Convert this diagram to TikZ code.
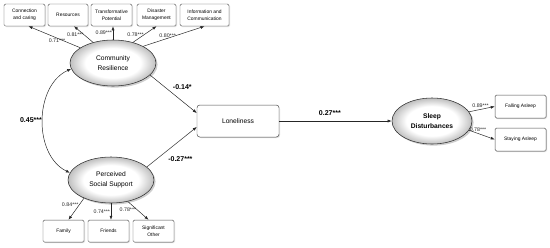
\documentclass[tikz,border=0pt]{standalone}
\usepackage{fontspec}
\setmainfont{Liberation Sans}
\usetikzlibrary{positioning,arrows.meta,calc,shapes.geometric,shadows}
\pgfdeclareradialshading{rim}{\pgfpoint{0bp}{0bp}}{color(0bp)=(white); color(16bp)=(white); color(25bp)=(gray!50); color(50bp)=(gray!50)}

\begin{document}
\begin{tikzpicture}[
  x=0.5mm, y=-0.5mm,
  lat/.style={ellipse,draw=black!80,line width=0.8pt,inner sep=0pt,minimum width=43mm,minimum height=23mm,align=center,
    shade,shading=rim,
    drop shadow={shadow xshift=0.8mm,shadow yshift=-0.8mm,fill=gray!55,opacity=0.7},
    font=\fontsize{9.5}{14}\selectfont},
  obs/.style={draw=black!70,line width=0.7pt,rounded corners=2pt,fill=white,minimum width=20.5mm,minimum height=11mm,align=center,inner sep=1pt,
    drop shadow={shadow xshift=0.5mm,shadow yshift=-0.5mm,fill=gray!45,opacity=0.6},
    font=\fontsize{7}{10}\selectfont},
  ar/.style={-{Latex[length=2mm,width=1.5mm]},draw=black!85,line width=0.7pt},
  cov/.style={{Latex[length=2mm,width=1.5mm]}-{Latex[length=2mm,width=1.5mm]},draw=black!85,line width=0.7pt},
  ld/.style={font=\fontsize{7.5}{8}\selectfont,inner sep=1pt,text=black!85},
  coef/.style={font=\bfseries\fontsize{10}{12}\selectfont,inner sep=1pt}
]
\useasboundingbox (0,0) rectangle (550,247);
\node[obs] (conn) at (24.5,15) {Connection\\and caring};
\node[obs,minimum width=20mm] (res) at (68,15) {Resources};
\node[obs] (trans) at (111.5,15) {Transformative\\Potential};
\node[obs,minimum width=19.5mm] (dis) at (156.5,15) {Disaster\\Management};
\node[obs,minimum width=24.5mm] (info) at (204.5,15) {Information and\\Communication};
\node[lat] (cr) at (113,63) {Community\\Resilience};
\node[lat] (pss) at (111,180) {Perceived\\Social Support};
\node[obs] (fam) at (63.5,231) {Family};
\node[obs] (fri) at (108.5,231) {Friends};
\node[obs] (sig) at (153.5,231) {Significant\\Other};
\node[obs,minimum width=41mm,minimum height=16mm,rounded corners=4pt,font=\fontsize{9.5}{12}\selectfont] (lon) at (238,121) {Loneliness};
\node[lat,minimum width=40mm,font=\bfseries\fontsize{9.5}{14}\selectfont] (sd) at (432,121) {Sleep\\Disturbances};
\node[obs,minimum width=25.5mm,minimum height=11.5mm] (fall) at (520.5,106.5) {Falling Asleep};
\node[obs,minimum width=25.5mm,minimum height=11.5mm] (stay) at (520.5,139.5) {Staying Asleep};
\draw[ar] (cr.155) -- node[ld,below,pos=0.45]{0.71***} ($(conn.south)+(4,0)$);
\draw[ar] (cr.134) -- node[ld,left,pos=0.45]{0.81***} ($(res.south)+(6,0)$);
\draw[ar] (cr.north) -- node[ld,left]{0.89***} (cr.north |- trans.south);
\draw[ar] (cr.46) -- node[ld,left]{0.78***} (dis.south);
\draw[ar] (cr.29) -- node[ld,above,pos=0.4]{0.80***} (info.south);
\draw[ar] (pss.214) -- node[ld,left,pos=0.3]{0.84***} ($(fam.north)+(5,0)$);
\draw[ar] (pss.south) -- node[ld,left]{0.74***} (pss.south |- fri.north);
\draw[ar] (pss.-52) -- node[ld,left,pos=0.45]{0.78***} ($(sig.north)+(-5,0)$);
\draw[cov] (cr.188) to[bend right=65] node[coef,left]{0.45***} (pss.170);
\draw[ar] (cr.-18) -- node[coef,above right,pos=0.47,yshift=3pt]{-0.14*} ($(lon.west)+(0,-8)$);
\draw[ar] (pss.20) -- node[coef,anchor=north west,pos=0.41,yshift=-7pt]{-0.27***} ($(lon.west)+(0,6)$);
\draw[ar] (lon) -- node[coef,above=6pt,pos=0.45]{0.27***} (sd);
\draw[ar] (sd.14) -- node[ld,above=1pt,pos=0.45]{0.89***} (fall.west);
\draw[ar] (sd.-14) -- node[ld,above=2pt,pos=0.35]{0.78***} (stay.west);
\end{tikzpicture}
\end{document}
